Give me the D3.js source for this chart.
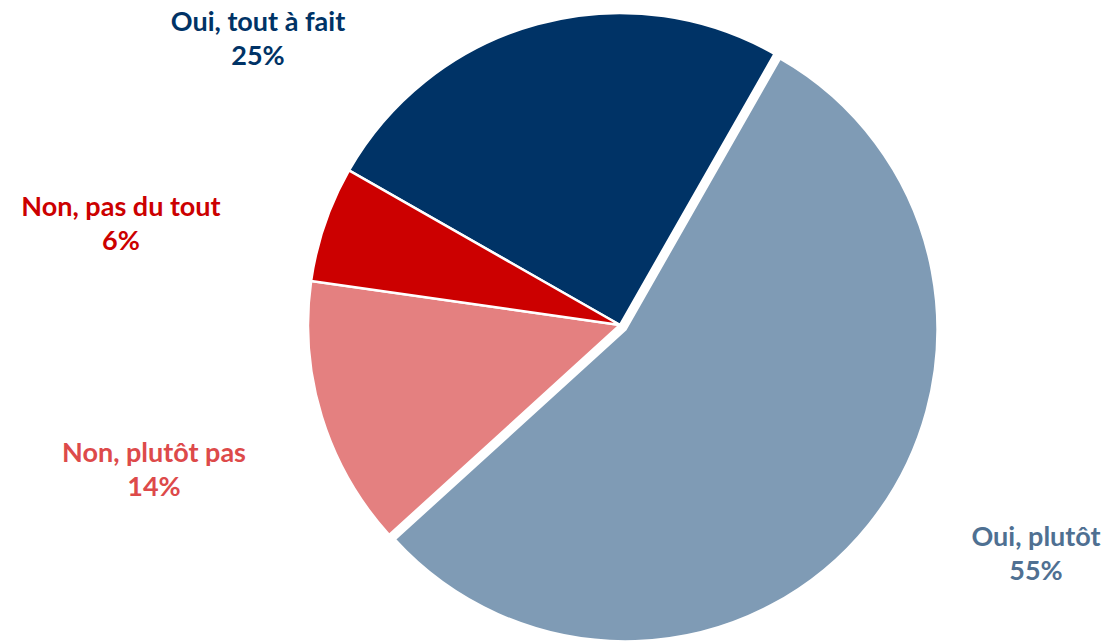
<!DOCTYPE html>
<html><head><meta charset="utf-8">
<script src="https://cdn.jsdelivr.net/npm/d3@7"></script>
<style>html,body{margin:0;padding:0;background:#fff;}</style>
</head><body>
<svg id="c" width="1108" height="642"></svg>
<script>
const categories = ["Oui, tout à fait", "Oui, plutôt", "Non, plutôt pas", "Non, pas du tout"];
const values = [25, 55, 14, 6];
const colors = ["#003366", "#7f9bb5", "#e48080", "#cc0000"];
const labelColors = ["#003366", "#4f7092", "#dd4a4a", "#cc0000"];
// label anchor (center of text block, first baseline) in px
const labelAnchors = [[258, 31], [1036, 546], [154, 462], [121, 216]];
const explode = [0, 7, 0, 0];

const svg = d3.select("#c");
const cx = 620, cy = 325, R = 312;
const startDeg = -60.3;
const pie = d3.pie().sort(null).value(d => d)
  .startAngle(startDeg * Math.PI / 180)
  .endAngle((startDeg + 360) * Math.PI / 180);
const arcs = pie(values);
const arc = d3.arc().innerRadius(0).outerRadius(R);
const g = svg.append("g").attr("transform", `translate(${cx},${cy})`);
g.selectAll("path").data(arcs).join("path")
  .attr("d", arc)
  .attr("fill", (d, i) => colors[i])
  .attr("stroke", "#fff")
  .attr("stroke-width", 2.5)
  .attr("stroke-linejoin", "miter")
  .attr("transform", (d, i) => {
    const a = (d.startAngle + d.endAngle) / 2;
    return `translate(${Math.sin(a) * explode[i]},${-Math.cos(a) * explode[i]})`;
  });

const lab = svg.append("g");
arcs.forEach((d, i) => {
  const t = lab.append("text")
    .attr("x", labelAnchors[i][0]).attr("y", labelAnchors[i][1])
    .attr("text-anchor", "middle")
    .attr("font-family", "Lato, 'Open Sans', sans-serif")
    .attr("font-weight", "bold")
    .attr("font-size", 27)
    .attr("fill", labelColors[i]);
  t.append("tspan").attr("x", labelAnchors[i][0]).text(categories[i]);
  t.append("tspan").attr("x", labelAnchors[i][0]).attr("dy", 34).text(values[i] + "%");
});
</script>
</body></html>
